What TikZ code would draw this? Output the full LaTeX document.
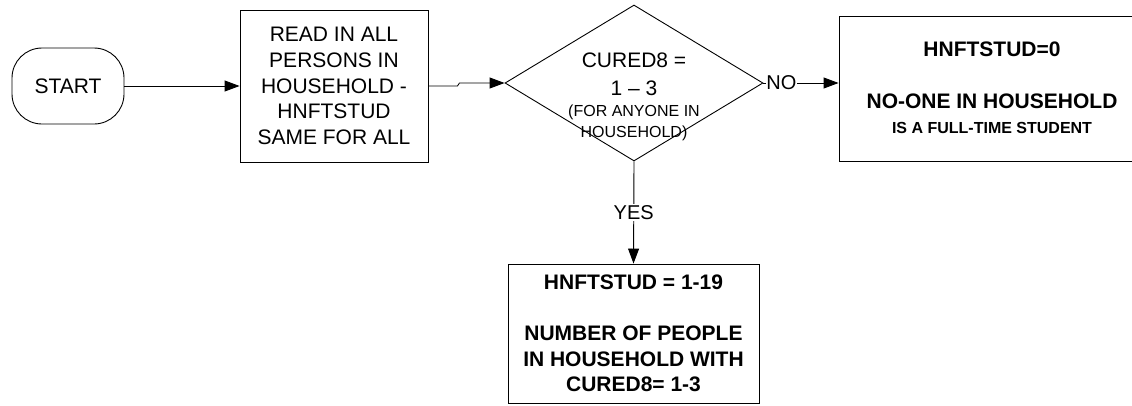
\documentclass[tikz,border=0pt]{standalone}
\usepackage{fontspec}
\setmainfont{Liberation Sans}
\usetikzlibrary{shapes.geometric,arrows.meta}
\newcommand\fsz[2]{\fontsize{#1}{#2}\selectfont}
\begin{document}
\begin{tikzpicture}[x=1pt,y=-1pt,
  line width=0.9pt,
  box/.style={draw, rectangle, inner sep=0pt},
  arr/.style={-{Triangle[length=15pt,width=11pt]}},
  txt/.style={inner sep=0pt, anchor=base},
  lbl/.style={fill=white, inner sep=1.5pt, font=\fsz{20}{24}}]
\clip (0,0) rectangle (1132,405);
\node[draw, rounded corners=30pt, minimum width=112pt, minimum height=76pt, inner sep=0pt, font=\fsz{21}{25}] (start) at (68,86) {START};
\node[box, minimum width=188pt, minimum height=152pt, align=center, font=\fsz{21}{25.6}] (read) at (334,86) {READ IN ALL\\PERSONS IN\\HOUSEHOLD -\\HNFTSTUD\\SAME FOR ALL};
\node[draw, diamond, minimum width=258pt, minimum height=156pt, inner sep=0pt] (dec) at (634,83) {};
\node[txt, font=\fsz{21}{25}] (d1) at (634,67.7) {CURED8 =};
\node[txt, font=\fsz{21}{25}] (d2) at (634,95) {1 – 3};
\node[txt, font=\fsz{16}{20}] (d3) at (634,116) {(FOR ANYONE IN};
\node[txt, font=\fsz{16}{20}] (d4) at (634,137.7) {HOUSEHOLD)};
\node[box, minimum width=306pt, minimum height=145pt] (nobox) at (992,88.5) {};
\node[txt, font=\fsz{21}{25}\bfseries] (n1) at (992,56.7) {HNFTSTUD=0};
\node[txt, font=\fsz{21}{25}\bfseries] (n2) at (992,108.3) {NO-ONE IN HOUSEHOLD};
\node[txt, font=\fsz{16}{20}\bfseries] (n3) at (992,133.3) {IS A FULL-TIME STUDENT};
\node[box, minimum width=251pt, minimum height=139pt, align=center, font=\fsz{21}{25.5}\bfseries] (yesbox) at (633.5,333.5) {HNFTSTUD = 1-19\\[25.5pt]NUMBER OF PEOPLE\\IN HOUSEHOLD WITH\\CURED8= 1-3};
\draw[arr] (start.east) -- (read.west);
\draw[arr] (read.east) -- ++(29,0) -- ++(2,-3) -- (dec.west);
\draw[arr] (dec.east) -- (dec.east -| nobox.west) node[lbl, inner sep=0.3pt, pos=0.24] (nolbl) {NO};
\draw[arr] (dec.south) -- (yesbox.north) node[lbl, midway] (yeslbl) {YES};
\end{tikzpicture}
\end{document}
